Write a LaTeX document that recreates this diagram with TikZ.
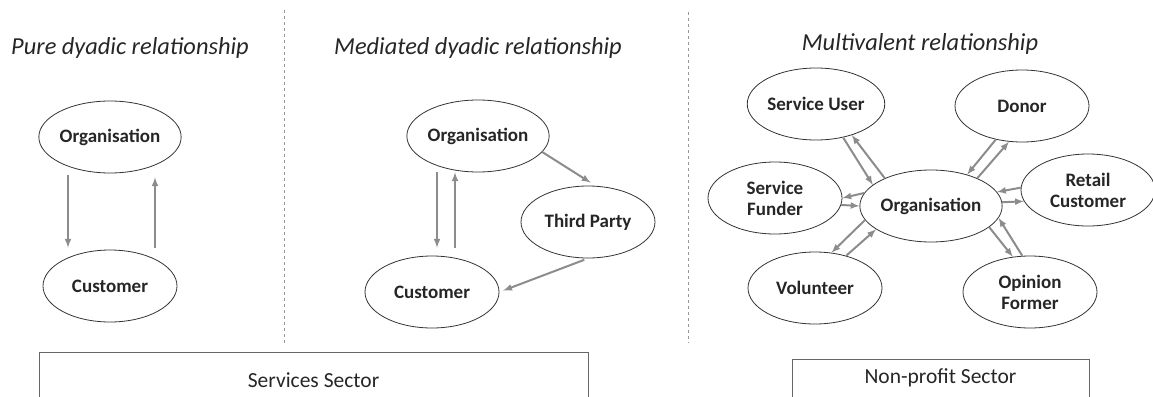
\documentclass[tikz,border=0pt]{standalone}
\usepackage{fontspec}
\setmainfont{Carlito}
\usetikzlibrary{calc}
\usetikzlibrary{shapes}
\tikzset{%Global config
	>=latex,
	color = black ,
	%Styles
	Party/.style={
		ellipse,
		draw=black!80,
		line width=0.8pt,
		minimum width=134pt,
		minimum height=72pt,
		inner sep=0pt,
		align=center,
		text=black!85,
		font=\fontsize{19}{21}\bfseries\selectfont,
	},
	Flow/.style={
		->,
		draw=black!45,
		line width=2pt,
	},
	Title/.style={
		font=\fontsize{24.4}{28}\itshape\selectfont,
		text=black!85,
	},
	Sector/.style={
		draw=black!60,
		line width=0.6pt,
		font=\fontsize{21.5}{24}\selectfont,
		text=black!85,
	},
	Divider/.style={
		draw=black!40,
		dashed,
		line width=0.6pt,
	}
}
\begin{document}
\begin{tikzpicture}[x=1pt, y=-1pt]
		\clip (0,0) rectangle (1153,396);
		% Titles
		\node[Title] (t1) at (130,48) {Pure dyadic relationship};
		\node[Title] (t2) at (478,48) {Mediated dyadic relationship};
		\node[Title] (t3) at (920,44) {Multivalent relationship};
		\draw[Divider] (284,10) -- (284,343);
		\draw[Divider] (688,12) -- (688,343);
		
		% Pure dyadic
		\node[Party] (org1) at (110,137) {Organisation};
		\node[Party] (cust1) at (110,286) {Customer};
		\draw[Flow, shorten <=2pt, shorten >=2pt] ($(org1.south)+(-42,0)$) -- ($(cust1.north)+(-42,0)$);
		\draw[Flow, shorten <=2pt, shorten >=4pt] ($(cust1.north)+(45,0)$) -- ($(org1.south)+(45,0)$);
		
		% Mediated dyadic
		\node[Party] (org2) at (478,136) {Organisation};
		\node[Party] (third) at (588,222) {Third Party};
		\node[Party] (cust2) at (432,292) {Customer};
		\draw[Flow, shorten >=8pt] ($(org2.south)+(-41,0)$) -- ($(org2.south |- cust2.north)+(-41,0)$);
		\draw[Flow, shorten <=8pt] ($(org2.south |- cust2.north)+(-23,0)$) -- ($(org2.south)+(-23,0)$);
		\draw[Flow, shorten >=6pt] (org2.-14) -- (third.78);
		\draw[Flow, shorten <=4pt, shorten >=4pt] (third.south) -- (cust2.east);
		
		% Multivalent
		\node[Party] (org3) at (931,206) {Organisation};
		\node[Party] (user) at (816,104) {Service User};
		\node[Party] (donor) at (1022,106) {Donor};
		\node[Party] (funder) at (775,198) {Service\\Funder};
		\node[Party] (retail) at (1088,190) {Retail\\Customer};
		\node[Party] (vol) at (815,288) {Volunteer};
		\node[Party] (opinion) at (1030,292) {Opinion\\Former};
		\foreach \n/\a/\b/\c/\d in {user/-51/160/149/-41, donor/-128/41/31/-110,
			funder/-6/180/169/0, retail/178/12/3/190, vol/46/203/192/65, opinion/102/-10/-20/116}{
			\draw[Flow] (\n.\a) -- (org3.\b);
			\draw[Flow] (org3.\c) -- (\n.\d);
		}
		
		% Sectors
		\node[Sector, minimum width=549pt, minimum height=56pt] (services) at (313.5,380) {Services Sector};
		\node[Sector, minimum width=297pt, minimum height=38pt] (nonprofit) at (940.5,378) {Non-profit Sector};
	\end{tikzpicture}
\end{document}
